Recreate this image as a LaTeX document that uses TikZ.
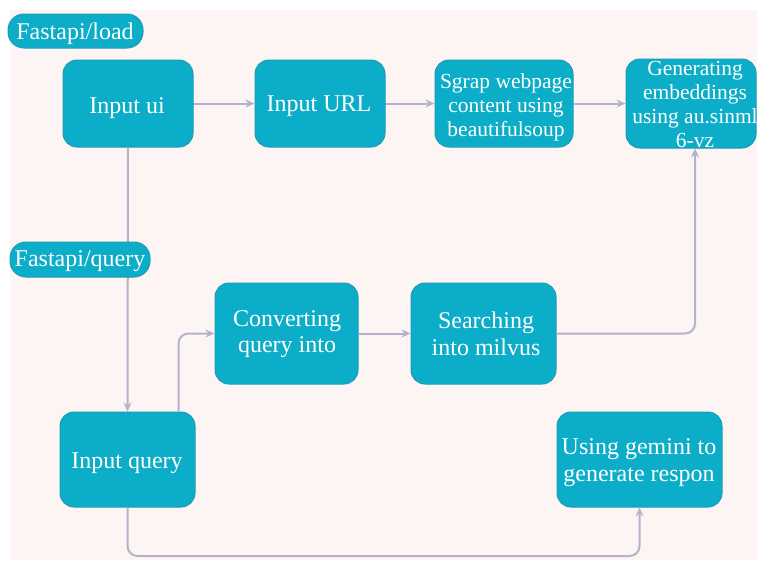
\documentclass[tikz,border=0pt]{standalone}
\usepackage{fontspec}
\setmainfont{Liberation Serif}
\usetikzlibrary{arrows.meta}
\definecolor{bgpink}{HTML}{FCF5F4}
\definecolor{boxfill}{HTML}{0BADC8}
\definecolor{boxedge}{HTML}{1C9DB6}
\definecolor{linec}{HTML}{B3B3CB}
\tikzset{
  box/.style={draw=boxedge, line width=1pt, fill=boxfill, rounded corners=14pt,
    inner sep=0pt},
  pill/.style={draw=boxedge, line width=1pt, fill=boxfill, rounded corners=16pt,
    inner sep=0pt},
  txt/.style={text=white, align=center, inner sep=0pt,
    font=\fontsize{24}{26}\selectfont},
  txtwide/.style={text=white, align=center, inner sep=0pt,
    font=\fontsize{24}{27}\selectfont},
  txtsmall/.style={text=white, align=center, inner sep=0pt,
    font=\fontsize{21.5}{24}\selectfont},
  conn/.style={draw=linec, line width=2pt, rounded corners=10pt,
    -{Stealth[length=9pt,width=8pt]}}
}
\begin{document}
\begin{tikzpicture}[x=1pt,y=-1pt]
\useasboundingbox (0,0) rectangle (757,560);
\fill[white] (0,0) rectangle (757,560);
\fill[bgpink] (10,10) rectangle (757,560);
\begin{scope}
\clip (0,0) rectangle (757,560);
% boxes
\node[box, minimum width=130pt, minimum height=87pt] (ui) at (128,103.5) {};
\node[txt] (uit) at (127,108.5) {Input ui};
\node[box, minimum width=130pt, minimum height=87pt] (url) at (320,103.5) {};
\node[txt] (urlt) at (319,106.5) {Input URL};
\node[box, minimum width=138pt, minimum height=87pt] (sgrap) at (504,103.5) {};
\node[txtsmall] (sgrapt) at (506,107.5) {Sgrap webpage\\content using\\beautifulsoup};
\node[box, minimum width=130pt, minimum height=89pt] (gen) at (691,103.5) {};
\node[txtsmall] (gent) at (695,104) {Generating\\embeddings\\using au.sinml\\6-vz};
\node[box, minimum width=143pt, minimum height=101pt] (conv) at (286.5,333.5) {};
\node[txt] (convt) at (287,334.5) {Converting\\query into};
\node[box, minimum width=145pt, minimum height=101pt] (search) at (483.5,333.5) {};
\node[txtwide] (searcht) at (486,333.5) {Searching\\into milvus};
\node[box, minimum width=165pt, minimum height=95pt] (gem) at (639.5,459.5) {};
\node[txtwide] (gemt) at (639,463) {Using gemini to\\generate respon};
\node[box, minimum width=135pt, minimum height=95pt] (iq) at (127.5,459.5) {};
\node[txt] (iqt) at (127,463.5) {Input query};
% connectors
\draw[conn] (ui) -- (url);
\draw[conn] (url) -- (sgrap);
\draw[conn] (sgrap) -- (gen);
\draw[conn] (ui.south) -- (iq.north);
\draw[conn] ([xshift=-17pt]iq.north east) |- (conv.west);
\draw[conn] (conv) -- (search);
\draw[conn] (search.east) -| ([xshift=4pt]gen.south);
\coordinate (bot) at (127.5,556);
\draw[conn] (iq.south) -- (bot) -| (gem.south);
% labels
\node[pill, minimum width=135pt, minimum height=34pt] (load) at (75.5,31) {};
\node[txt] (loadt) at (75,34) {Fastapi/load};
\node[pill, minimum width=140pt, minimum height=35pt] (query) at (80,259.5) {};
\node[txt] (queryt) at (80,261.5) {Fastapi/query};
\end{scope}
\end{tikzpicture}
\end{document}
